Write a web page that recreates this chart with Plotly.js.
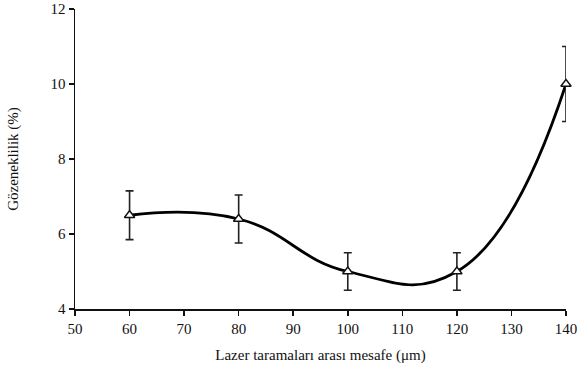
<!DOCTYPE html>
<html>
<head>
<meta charset="utf-8">
<script src="https://cdn.plot.ly/plotly-3.0.1.min.js"></script>
<style>html,body{margin:0;padding:0;background:#fff;}#chart{width:577px;height:375px;}</style>
</head>
<body>
<div id="chart"></div>
<script>
const spacing = [60, 80, 100, 120, 140];
const porosity = [6.5, 6.4, 5.0, 5.0, 10.0];
const porosityErr = [0.65, 0.64, 0.5, 0.5, 1.0];
const xTicks = [50, 60, 70, 80, 90, 100, 110, 120, 130, 140];
const yTicks = [4, 6, 8, 10, 12];

const font = {family: '"Liberation Serif", "Times New Roman", serif', size: 15, color: '#111'};

const traces = [
  {
    x: spacing, y: porosity, type: 'scatter', mode: 'lines',
    line: {shape: 'spline', smoothing: 1.3, color: '#000', width: 2.8},
    cliponaxis: false, hoverinfo: 'skip', showlegend: false
  },
  {
    x: spacing, y: porosity, type: 'scatter', mode: 'markers',
    marker: {symbol: 'triangle-up', size: 9, color: '#fff', line: {width: 1.4, color: '#111'}},
    error_y: {type: 'data', array: porosityErr, visible: true, color: '#222', thickness: 1.6, width: 4},
    cliponaxis: false, showlegend: false
  }
];

const layout = {
  width: 577, height: 375,
  margin: {l: 75, r: 11, t: 9, b: 66},
  paper_bgcolor: '#fff', plot_bgcolor: '#fff',
  font: font,
  showlegend: false,
  xaxis: {
    range: [50, 140], tickvals: xTicks, ticktext: xTicks.map(String),
    showgrid: false, zeroline: false, showline: true, linecolor: '#111', linewidth: 1.5,
    ticks: 'outside', ticklen: 5, tickwidth: 1.5, tickcolor: '#111',
    tickfont: font, ticklabeloverflow: 'allow', automargin: false,
    title: {text: 'Lazer taramaları arası mesafe (μm)', font: font, standoff: 14}
  },
  yaxis: {
    range: [4, 12], tickvals: yTicks, ticktext: yTicks.map(String),
    showgrid: false, zeroline: false, showline: true, linecolor: '#111', linewidth: 1.5,
    ticks: 'outside', ticklen: 5, tickwidth: 1.5, tickcolor: '#111',
    tickfont: font, ticklabeloverflow: 'allow', automargin: false,
    title: {text: 'Gözeneklilik (%)', font: font, standoff: 28}
  }
};

Plotly.newPlot('chart', traces, layout, {staticPlot: true, displayModeBar: false});
</script>
</body>
</html>
